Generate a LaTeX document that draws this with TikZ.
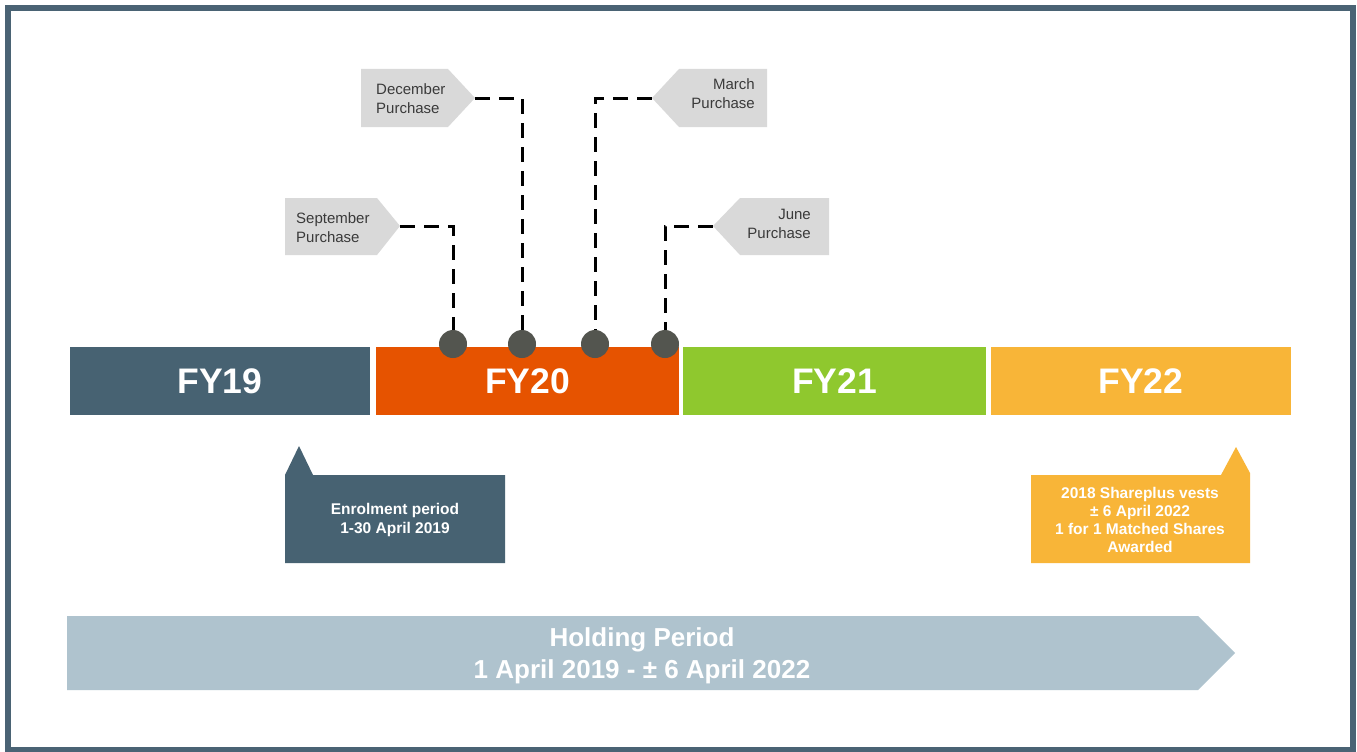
\documentclass[tikz,border=0pt]{standalone}
\usepackage{fontspec}
\setmainfont{Liberation Sans}
\definecolor{frameC}{HTML}{4A6374}
\definecolor{fyA}{HTML}{476272}
\definecolor{fyB}{HTML}{E65300}
\definecolor{fyC}{HTML}{8FC82E}
\definecolor{fyD}{HTML}{F8B538}
\definecolor{dotC}{HTML}{53554F}
\definecolor{tagC}{HTML}{D9D9D9}
\definecolor{holdC}{HTML}{AFC3CE}
\definecolor{txtC}{HTML}{3A3A3A}
\tikzset{
  fybar/.style={minimum height=68pt, inner sep=0pt, text=white, font=\fontsize{35.5}{40}\selectfont\bfseries},
  dot/.style={circle, fill=dotC, minimum size=28pt, inner sep=0pt},
  lead/.style={dash pattern=on 15pt off 9pt, line width=3pt, black},
  tagtxt/.style={text=txtC, font=\fontsize{15}{19}\selectfont, inner sep=0pt},
  calltxt/.style={text=white, align=center, font=\fontsize{15.5}{18.3}\selectfont\bfseries, inner sep=0pt},
}
\begin{document}
\begin{tikzpicture}[x=1pt,y=-1pt]
\useasboundingbox (0,0) rectangle (1357,752);
\fill[white] (0,0) rectangle (1357,752);
\draw[line width=6pt, frameC] (8,8) rectangle (1353,750);

% purchase tags
\fill[tagC] (285,198) -- (377,198) -- (400,226) -- (377,255) -- (285,255) -- cycle;
\coordinate (sepTip) at (400,226);
\node[tagtxt, anchor=north west, align=left] (sepT) at (296,212) {September\\Purchase};

\fill[tagC] (361,69) -- (448,69) -- (475,98) -- (448,127) -- (361,127) -- cycle;
\coordinate (decTip) at (475,98);
\node[tagtxt, anchor=north west, align=left] (decT) at (376,83) {December\\Purchase};

\fill[tagC] (767,69) -- (679,69) -- (652,98) -- (679,127) -- (767,127) -- cycle;
\coordinate (marTip) at (652,98);
\node[tagtxt, anchor=north east, align=right] (marT) at (755,78) {March\\Purchase};

\fill[tagC] (829,198) -- (740,198) -- (713,226) -- (740,255) -- (829,255) -- cycle;
\coordinate (junTip) at (713,226);
\node[tagtxt, anchor=north east, align=right] (junT) at (811,208.5) {June\\Purchase};

% year bars
\node[fybar, fill=fyA, minimum width=300pt] (fy19) at (220,381) {FY19};
\node[fybar, fill=fyB, minimum width=303pt] (fy20) at (527.5,381) {FY20};
\node[fybar, fill=fyC, minimum width=303pt] (fy21) at (834.5,381) {FY21};
\node[fybar, fill=fyD, minimum width=300pt] (fy22) at (1141,381) {FY22};

% dots and leaders
\coordinate (d1) at (453,344);
\coordinate (d2) at (522,344);
\coordinate (d3) at (595,344);
\coordinate (d4) at (665,344);
\draw[lead] (sepTip) -| (d1);
\draw[lead] (decTip) -| (d2);
\draw[lead] (marTip) -| (d3);
\draw[lead] (junTip) -| (d4);
\node[dot] (dot1) at (d1) {};
\node[dot] (dot2) at (d2) {};
\node[dot] (dot3) at (d3) {};
\node[dot] (dot4) at (d4) {};

% callouts
\fill[fyA] (285,563) -- (285,475) -- (299,446) -- (313,475) -- (505,475) -- (505,563) -- cycle;
\node[calltxt] (enrol) at (395,520) {Enrolment period\\1-30 April 2019};

\fill[fyD] (1031,475) -- (1221,475) -- (1236,447) -- (1250,473) -- (1250,563) -- (1031,563) -- cycle;
\node[calltxt] (vest) at (1140,520) {2018 Shareplus vests\\± 6 April 2022\\1 for 1 Matched Shares\\Awarded};

% holding period
\fill[holdC] (67,616) -- (1198,616) -- (1235,653) -- (1198,690) -- (67,690) -- cycle;
\node[text=white, align=center, inner sep=0pt, font=\fontsize{26}{32}\selectfont\bfseries] (hold) at (642,656) {Holding Period\\1 April 2019 - ± 6 April 2022};
\end{tikzpicture}
\end{document}
